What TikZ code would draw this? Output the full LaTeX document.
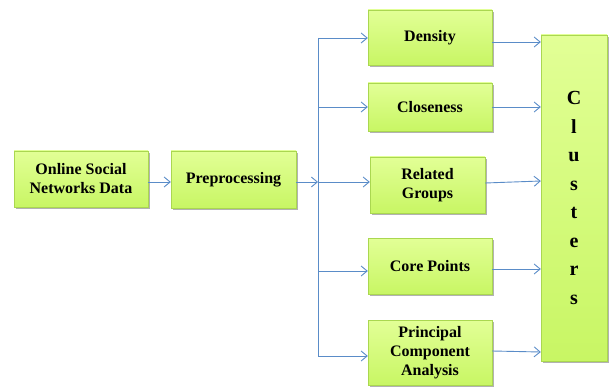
\documentclass[tikz,border=0pt]{standalone}
\usepackage{fontspec}
\setmainfont{Liberation Serif}
\usetikzlibrary{arrows.meta,shadows,calc}
\definecolor{boxtop}{RGB}{226,255,150}
\definecolor{boxbot}{RGB}{200,246,100}
\definecolor{boxline}{RGB}{170,215,80}
\definecolor{arr}{RGB}{90,140,200}
\tikzset{
  gbox/.style={draw=boxline, line width=0.4pt, top color=boxtop, bottom color=boxbot,
    drop shadow={shadow xshift=1.6pt, shadow yshift=-1.8pt, fill=black, opacity=0.3},
    font=\bfseries\fontsize{16}{19}\selectfont, align=center, inner sep=0pt},
  conn/.style={draw=arr, line width=0.9pt, -{Straight Barb[length=6pt,width=10pt,line width=0.9pt]}},
  trunk/.style={draw=arr, line width=0.9pt}
}
\begin{document}
\begin{tikzpicture}[x=1pt,y=-1pt]
\useasboundingbox (0,0) rectangle (609,387);
\newcommand{\gnode}[6]{%
  \node[gbox, minimum width=#4-#2, minimum height=#5-#3] (#1) at ({(#2+#4)/2},{(#3+#5)/2}) {#6};}
\gnode{osn}{14}{151}{148}{207}{Online Social\\Networks Data}
\gnode{pre}{171}{151}{296}{208}{Preprocessing}
\gnode{den}{368}{10}{492}{65}{Density}
\gnode{clo}{368}{83}{492}{131}{Closeness}
\gnode{rel}{370}{157}{485}{213}{Related\\Groups}
\gnode{cor}{368}{238}{492}{294}{Core Points}
\gnode{pca}{368}{320}{492}{385}{Principal\\Component\\Analysis}
\node[gbox, minimum width=66pt, minimum height=326pt, font=\bfseries\fontsize{20}{28.5}\selectfont] (clu) at (574,198) {C\\l\\u\\s\\t\\e\\r\\s};
\coordinate (ttop) at (318,38);
\coordinate (tbot) at (318,356);
\coordinate (tmid) at (318,182);
\draw[conn] (osn.east |- 0,182) -- (pre.west |- 0,182);
\draw[conn] (pre.east |- 0,182) -- (tmid);
\draw[trunk] (ttop) -- (tbot);
\draw[conn] (ttop) -- (den.west |- ttop);
\draw[conn] (318,107) -- (clo.west |- 0,107);
\draw[conn] (tmid) -- (rel.west |- tmid);
\draw[conn] (318,271) -- (cor.west |- 0,271);
\draw[conn] (tbot) -- (pca.west |- tbot);
\draw[conn] (den.east |- 0,42) -- (clu.west |- 0,42);
\draw[conn] (clo.east |- 0,107) -- (clu.west |- 0,107);
\draw[conn] (rel.east |- 0,183) -- (clu.west |- 0,181);
\draw[conn] (cor.east |- 0,269) -- (clu.west |- 0,269);
\draw[conn] (pca.east |- 0,351) -- (clu.west |- 0,352);
\end{tikzpicture}
\end{document}
